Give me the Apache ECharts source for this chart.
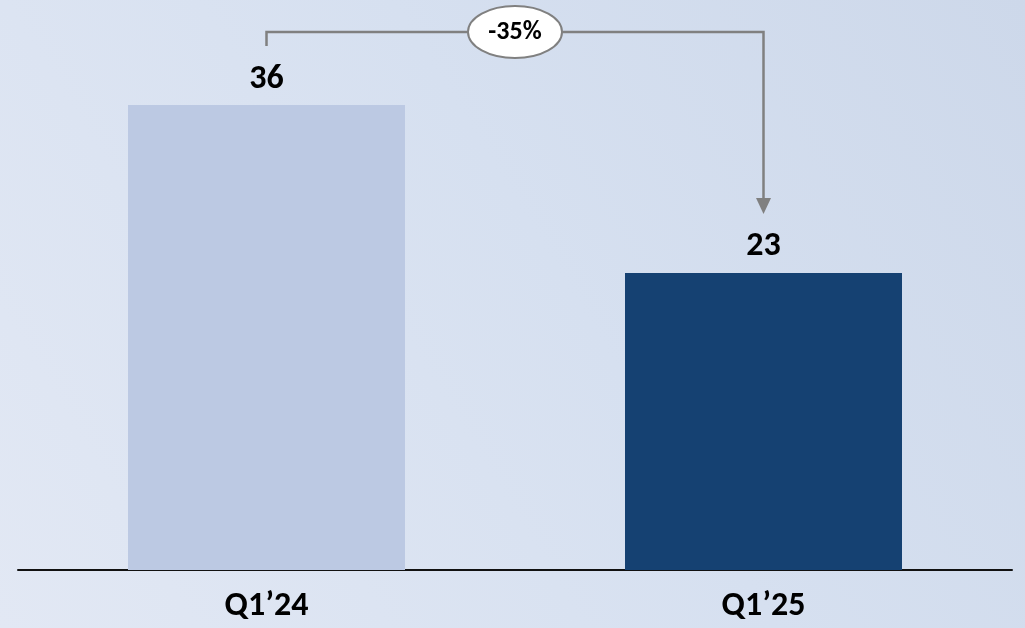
<!DOCTYPE html>
<html>
<head>
<meta charset="utf-8">
<script src="https://cdn.jsdelivr.net/npm/echarts@6/dist/echarts.min.js"></script>
<style>
  html, body { margin: 0; padding: 0; }
  #chart { width: 1025px; height: 628px; }
</style>
</head>
<body>
<div id="chart"></div>
<script>
// data
const categories = ['Q1\u201924', 'Q1\u201925'];
const values = [36, 23];
const barColors = ['#bcc9e3', '#154172'];
const changeLabel = '-35%';

const fontStack = 'Carlito, Lato, "Open Sans", sans-serif';

let chart = echarts.init(document.getElementById('chart'));

let option = {
  backgroundColor: new echarts.graphic.LinearGradient(1, 0, 0, 1, [
    { offset: 0, color: '#cdd8ea' },
    { offset: 0.45, color: '#d6e0f0' },
    { offset: 1, color: '#e2e8f4' },
  ]),
  grid: {
    left: 18,
    right: 13,
    top: 105,
    bottom: 58,
  },
  xAxis: {
    type: 'category',
    data: categories,
    axisLine: { lineStyle: { color: '#111', width: 2 } },
    axisTick: { show: false },
    axisLabel: {
      margin: 19,
      color: '#000',
      fontSize: 34,
      fontWeight: 'bold',
      fontFamily: fontStack,
    },
  },
  yAxis: {
    type: 'value',
    min: 0,
    max: 36,
    show: false,
    splitLine: { show: false },
  },
  series: [
    {
      type: 'bar',
      barWidth: 277,
      data: values.map((v, i) => ({
        value: v,
        itemStyle: { color: barColors[i] },
      })),
      label: {
        show: true,
        position: 'top',
        distance: 9,
        color: '#000',
        fontSize: 34,
        fontWeight: 'bold',
        fontFamily: fontStack,
      },
    },
  ],
};

chart.setOption(option);

// bracket with arrow from the first bar to the second
function drawBracket() {
  let p0 = chart.convertToPixel({ seriesIndex: 0 }, [0, values[0]]);
  let p1 = chart.convertToPixel({ seriesIndex: 0 }, [1, values[1]]);
  let gap = 59;
  let lineY = p0[1] - 73;
  let arrowH = 16;
  let lineColor = '#808080';
  let midX = (p0[0] + p1[0]) / 2;

  chart.setOption({
    graphic: [
      {
        type: 'polyline',
        shape: {
          points: [
            [p0[0], p0[1] - gap],
            [p0[0], lineY],
            [p1[0], lineY],
            [p1[0], p1[1] - gap - arrowH],
          ],
        },
        style: { stroke: lineColor, lineWidth: 2.5, fill: null },
      },
      {
        type: 'polygon',
        shape: {
          points: [
            [p1[0] - 7.5, p1[1] - gap - arrowH],
            [p1[0] + 7.5, p1[1] - gap - arrowH],
            [p1[0], p1[1] - gap],
          ],
        },
        style: { fill: lineColor },
      },
      {
        type: 'ellipse',
        shape: { cx: midX, cy: lineY, rx: 47, ry: 26 },
        style: { fill: '#fff', stroke: lineColor, lineWidth: 2 },
      },
      {
        type: 'text',
        x: midX,
        y: lineY,
        style: {
          text: changeLabel,
          align: 'center',
          verticalAlign: 'middle',
          fill: '#000',
          fontSize: 26,
          fontWeight: 'bold',
          fontFamily: fontStack,
        },
      },
    ],
  });
}

drawBracket();
</script>
</body>
</html>
